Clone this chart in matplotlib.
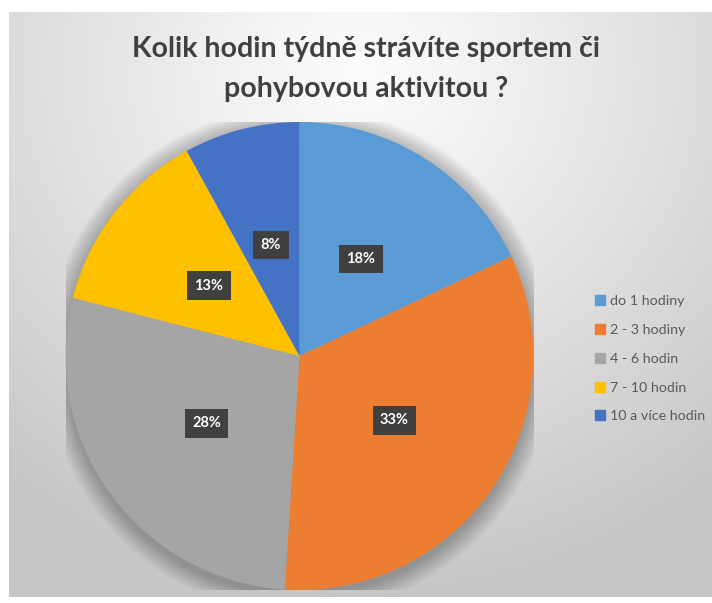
# pie chart: weekly hours of sport (Excel-style look)
import numpy as np
import matplotlib.pyplot as plt
from matplotlib.patches import Circle
from matplotlib.lines import Line2D

labels = ['do 1 hodiny', '2 - 3 hodiny', '4 - 6 hodin', '7 - 10 hodin', '10 a více hodin']
values = [18, 33, 28, 13, 8]
colors = ['#5B9BD5', '#ED7D31', '#A5A5A5', '#FFC000', '#4472C4']
title = 'Kolik hodin týdně strávíte sportem či\npohybovou aktivitou ?'

W, H = 712, 603
fig = plt.figure(figsize=(W / 100, H / 100), dpi=100)
fig.patch.set_facecolor('white')

# background gradient of the chart area
bg = fig.add_axes([9 / W, 6 / H, (W - 9) / W, (H - 6 - 12) / H])
yy, xx = np.mgrid[12:H - 6, 9:W]
d = np.hypot(xx - 360, (yy - 70) * 1.05)
t = np.clip(d / 560, 0, 1) ** 1.1
shade = 252 - t * 54
img = np.dstack([shade, shade, shade]) / 255
bg.imshow(img, aspect='auto', interpolation='bilinear')
bg.axis('off')

# pie axes
cx, cy, R = 299.5, 356, 234
ax = fig.add_axes([(cx - R) / W, (H - cy - R) / H, 2 * R / W, 2 * R / H])
ax.set_facecolor('none')

# soft shadow
for k in range(14):
    ax.add_patch(Circle((0, -0.015), 1 + 0.006 * (14 - k), color='black',
                        alpha=0.018, lw=0, zorder=0))

wedges, _ = ax.pie(values, colors=colors, startangle=90, counterclock=False,
                   radius=1, wedgeprops=dict(linewidth=0))
for w in wedges:
    w.set_zorder(2)

total = sum(values)
cum = 0
for v in values:
    mid = 90 - 360 * (cum + v / 2) / total
    cum += v
    x = 0.49 * np.cos(np.radians(mid))
    y = 0.49 * np.sin(np.radians(mid))
    ax.text(x, y, f'{v}%', ha='center', va='center', color='white',
            fontsize=10.5, fontweight='bold', family='Lato', zorder=5,
            bbox=dict(boxstyle='square,pad=0.5', fc='#404040', ec='none'))

ax.set_xlim(-1, 1)
ax.set_ylim(-1, 1)
ax.set_aspect('equal')
ax.axis('off')

fig.text(366 / W, 1 - 69 / H, title, ha='center', va='center', fontsize=20.5,
         fontweight='bold', color='#404040', family='Lato', linespacing=1.65)

handles = [Line2D([], [], marker='s', ls='none', color=c, markersize=7) for c in colors]
leg = fig.legend(handles, labels, loc='upper left', bbox_to_anchor=(583 / W, 1 - 282 / H),
                 frameon=False, handlelength=0.6, handletextpad=0.4, labelspacing=1.18,
                 prop={'family': 'Lato', 'size': 10.3})
for txt in leg.get_texts():
    txt.set_color('#595959')

fig.savefig('out.png', dpi=100)
